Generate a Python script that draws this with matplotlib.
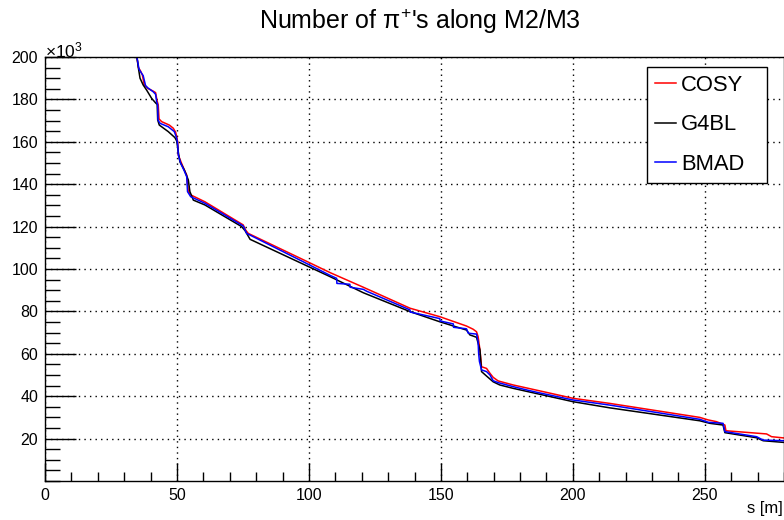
import numpy as np
import matplotlib
matplotlib.use("Agg")
import matplotlib.pyplot as plt
from matplotlib.ticker import MultipleLocator

plt.rcParams['font.family'] = ['Liberation Sans', 'DejaVu Sans']
plt.rcParams['mathtext.fontset'] = 'custom'
plt.rcParams['mathtext.rm'] = 'Liberation Sans'
plt.rcParams['mathtext.it'] = 'Liberation Sans:italic'

# s [m] and number of pi+ (x10^3)
s_cosy = [34.7, 35.4, 36.2, 36.9, 37.6, 38.4, 38.9, 40.7, 41.9, 42.4, 42.9, 43.2,
          44.2, 47.1, 48.6, 49.5, 49.9, 50.3, 50.5, 51.5, 52.8, 53.7, 54.3, 55.3,
          60.6, 75.1, 76.0, 77.0, 98.5, 108.0, 120.6, 138.3, 149.6, 159.7, 162.2,
          163.5, 164.1, 164.8, 165.4, 167.3, 168.6, 169.8, 171.7, 177.4, 200.1,
          214.0, 248.1, 251.3, 254.4, 257.6, 258.0, 273.4, 275.3, 280.0]
n_cosy = [201, 195, 193.4, 191.5, 186.8, 186, 185.2, 184.1, 183.2, 179.7, 177.4, 170.8,
          169.5, 167.9, 166.4, 164.5, 162.4, 159.8, 153.8, 150.6, 146.7, 144.3, 136.5, 134.9,
          131.7, 120.8, 118.4, 116.8, 104.0, 98.3, 91.4, 81.5, 77.5, 73.1, 71.6,
          70.4, 68.1, 61.8, 53.9, 53.1, 50.8, 48.9, 47.2, 45.3, 39.0,
          36.6, 30.0, 28.8, 28.0, 26.4, 23.7, 22.2, 20.9, 20.3]

s_g4bl = [34.7, 35.4, 36.0, 37.2, 38.5, 40.4, 42.0, 42.5, 42.7, 43.3, 46.7, 49.2,
          49.9, 50.5, 51.1, 52.8, 54.3, 54.9, 56.2, 60.6, 74.5, 75.8, 77.7, 98.5,
          108.0, 120.6, 138.3, 149.6, 159.7, 161.0, 163.5, 164.1, 164.8, 165.4,
          167.3, 169.8, 172.3, 177.4, 200.1, 214.0, 248.1, 251.9, 256.9, 257.6,
          269.6, 272.1, 280.0]
n_g4bl = [201, 194.7, 190, 186.8, 184.4, 180.5, 178.2, 177.7, 170.3, 167.9, 164.8, 162,
          160.4, 155.3, 150.6, 146.7, 142, 136.5, 132.5, 130.2, 120, 118.1, 114, 101.9,
          96.4, 88.8, 79.9, 75.1, 71.2, 68.9, 67.8, 65, 61.8, 51.6,
          49.5, 46.8, 45.3, 43.7, 37.4, 34.5, 28.4, 27.2, 26.4, 22.8,
          20.4, 19.0, 18.2]

s_bmad = [34.7, 35.6, 36.6, 37.2, 38.1, 38.9, 41.0, 41.9, 42.3, 42.7, 42.8, 43.6,
          46.7, 49.0, 49.9, 50.3, 50.5, 51.4, 52.8, 53.7, 54.0, 55.2, 60.6, 75.1,
          76.4, 98.5, 108.0, 110.5, 110.6, 115.5, 115.6, 120.6, 121.9, 138.3, 138.4,
          149.6, 149.7, 154.7, 154.8, 159.7, 160.4, 163.5, 164.1, 164.3, 164.6,
          165.4, 167.3, 168.6, 169.8, 171.7, 177.4, 183.7, 186.9, 200.1, 214.0,
          248.1, 251.3, 256.9, 257.6, 269.6, 272.1, 280.0]
n_bmad = [201, 194.3, 192.3, 191.2, 186.5, 185.5, 183.6, 182.4, 178.9, 177.4, 170.3, 168.7,
          167.1, 164.8, 161.7, 158.5, 153.8, 149.9, 146.2, 143.5, 136.5, 134.1, 131, 120.3,
          116.8, 103, 97.0, 95.6, 93.2, 92.8, 91.4, 90.4, 89.5, 80.7, 79.7,
          76.6, 75.5, 74.1, 72.5, 71.8, 69.7, 69.3, 65.7, 60.2, 56.4,
          52.4, 51.6, 50.0, 47.3, 46.4, 44.5, 42.6, 41.7, 38.2, 35.8,
          29.1, 27.7, 27.2, 23.3, 20.9, 19.3, 19.0]

fig = plt.figure(figsize=(7.84, 5.2), dpi=100)
ax = fig.add_axes([45 / 784, 39 / 520, 739 / 784, 424 / 520])

ax.plot(s_cosy, n_cosy, color='#ff0000', lw=1.1, label='COSY')
ax.plot(s_g4bl, n_g4bl, color='black', lw=1.1, label='G4BL')
ax.plot(s_bmad, n_bmad, color='#0000ff', lw=1.1, label='BMAD')

ax.set_xlim(0, 280)
ax.set_ylim(0, 200)
ax.set_xticks(np.arange(0, 251, 50))
ax.set_yticks(np.arange(20, 201, 20))
ax.xaxis.set_minor_locator(MultipleLocator(10))
ax.yaxis.set_minor_locator(MultipleLocator(5))
ax.tick_params(axis='both', which='both', direction='in', labelsize=11.5, pad=5,
               width=1, color='black')
ax.tick_params(axis='x', which='major', length=13)
ax.tick_params(axis='x', which='minor', length=6.5)
ax.tick_params(axis='y', which='major', length=22)
ax.tick_params(axis='y', which='minor', length=11)
ax.grid(True, which='major', color='black', linestyle=(0, (1, 3)), lw=1)
for sp in ax.spines.values():
    sp.set_linewidth(1)
    sp.set_color('black')

fig.text(0.535, 1 - 21 / 520, "Number of π$^{+}$'s along M2/M3", ha='center',
         va='center', fontsize=18)
fig.text(45 / 784, 1 - 50 / 520, r"$\times$10$^{3}$", ha='left', va='center',
         fontsize=12.5)
fig.text(783 / 784, 1 - 508 / 520, "s [m]", ha='right', va='center', fontsize=12)

ax.legend(loc='upper left', bbox_to_anchor=(0.8146, 0.703, 0.1624, 0.2736),
          mode='expand', borderaxespad=0, fontsize=15.8, frameon=True,
          fancybox=False, edgecolor='black', framealpha=1, handlelength=0.95,
          handletextpad=0.25, labelspacing=0.85, borderpad=0.35)
ax.get_legend().get_frame().set_linewidth(1)

fig.savefig('out.png', dpi=100)
